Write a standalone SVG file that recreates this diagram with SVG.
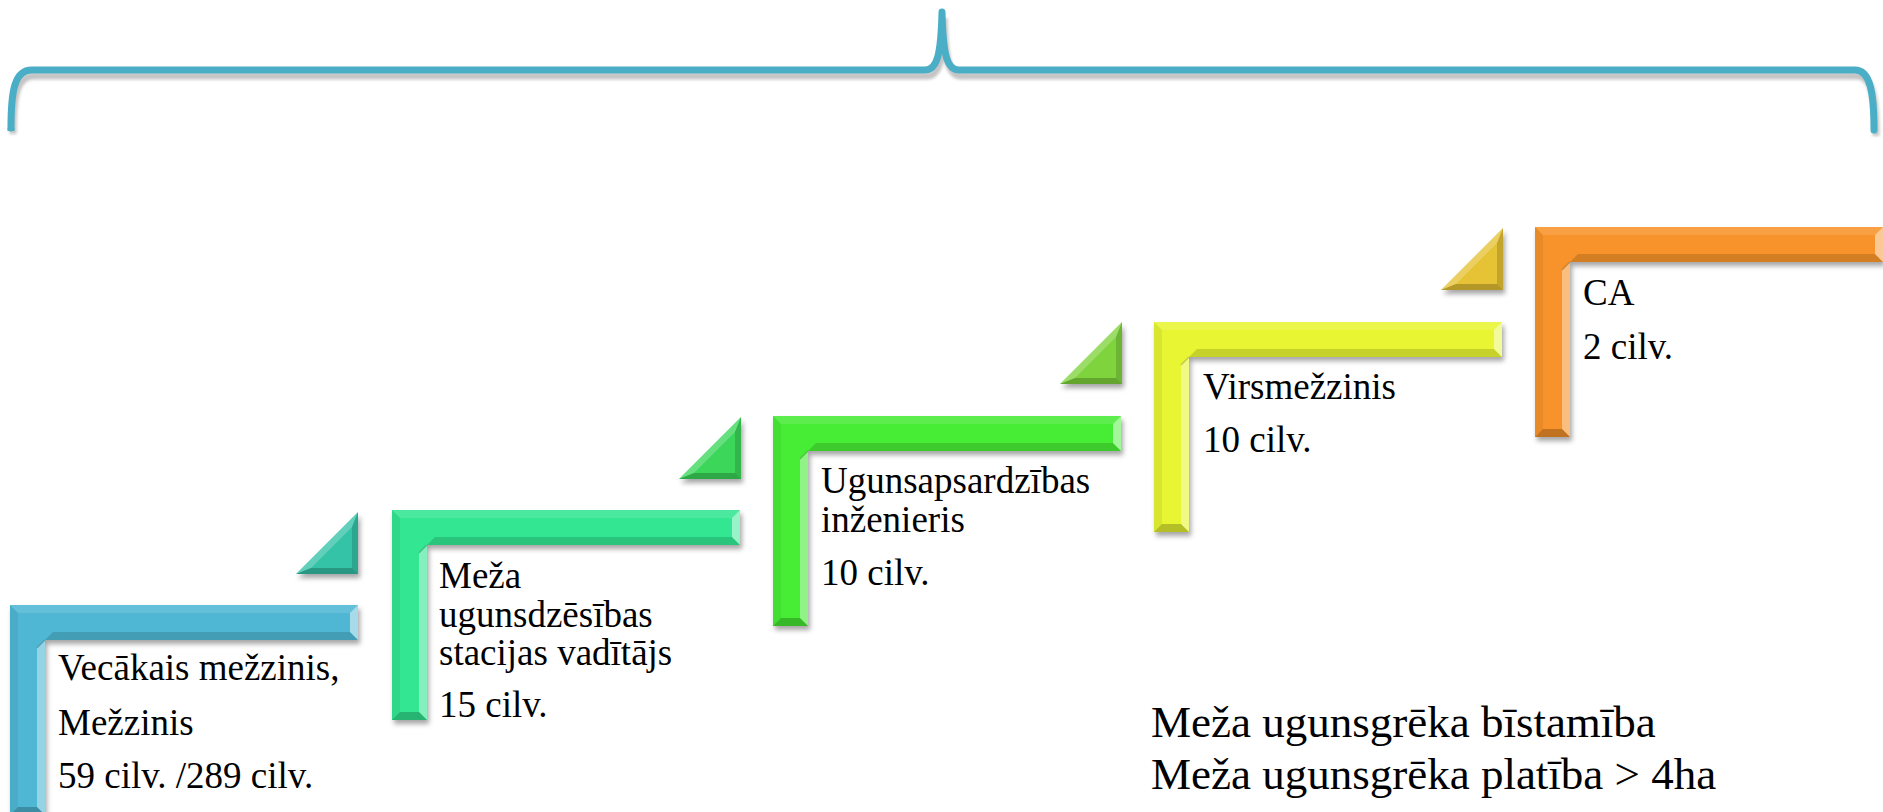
<svg xmlns="http://www.w3.org/2000/svg" xmlns:xlink="http://www.w3.org/1999/xlink" width="1883" height="812" viewBox="0 0 1883 812">
<style>
.t{font-size:37px;fill:#000}
.b{font-size:45px;fill:#000}
.hi{fill:#fff}
.dk{fill:#000}
</style>
<defs>
<filter id="sh" x="-10%" y="-10%" width="130%" height="130%">
<feDropShadow dx="2" dy="4" stdDeviation="2.5" flood-color="#000" flood-opacity="0.35"/>
</filter>
<filter id="bsh" x="-5%" y="-50%" width="110%" height="200%">
<feGaussianBlur stdDeviation="1.5"/>
</filter>
<path id="Lshape" d="M0,0 H348 V35 H35 V210 H0 Z"/>
<g id="Lbevel">
<polygon class="hi" opacity="0.12" points="0,0 348,0 340,8 8,8"/>
<polygon class="dk" opacity="0.06" points="0,0 8,8 8,202 0,210"/>
<polygon class="hi" opacity="0.4" points="35,35 35,210 27,202 27,43"/>
<polygon class="dk" opacity="0.14" points="35,35 348,35 340,27 43,27"/>
<polygon class="hi" opacity="0.5" points="348,0 348,35 340,27 340,8"/>
<polygon class="dk" opacity="0.22" points="0,210 35,210 27,202 8,202"/>
<line x1="27" y1="43" x2="35" y2="35" stroke="#000" stroke-opacity="0.18" stroke-width="1.5"/>
</g>
<g id="Tbevel">
<polygon class="hi" opacity="0.22" points="62,0 0,62 15,56 56,15"/>
<polygon class="dk" opacity="0.15" points="62,0 62,62 56,56 56,15"/>
<polygon class="dk" opacity="0.22" points="0,62 62,62 56,56 15,56"/>
</g>
</defs>

<g id="brace">
<g filter="url(#bsh)" opacity="0.5" transform="translate(2,6)">
<path d="M11,128 C11,92 14,70 32,70 L925,70 C937,70 941,55 942,12 C943,55 947,70 959,70 L1855,70 C1870,70 1874,92 1874,130" fill="none" stroke="#888" stroke-width="7"/>
</g>
<path d="M11,128 C11,92 14,70 32,70 L925,70 C937,70 941,55 942,12 C943,55 947,70 959,70 L1855,70 C1870,70 1874,92 1874,130" fill="none" stroke="#4aaec6" stroke-width="7" stroke-linecap="round" stroke-linejoin="round"/>
<path d="M11,128 V131" stroke="#4aaec6" stroke-width="7"/>
</g>

<g id="connectors">
<g transform="translate(296,512)">
<polygon points="62,0 62,62 0,62" fill="#36c3a8" filter="url(#sh)"/>
<use xlink:href="#Tbevel"/>
</g>
<g transform="translate(679,417)">
<polygon points="62,0 62,62 0,62" fill="#3bd65a" filter="url(#sh)"/>
<use xlink:href="#Tbevel"/>
</g>
<g transform="translate(1060,322)">
<polygon points="62,0 62,62 0,62" fill="#7fd43e" filter="url(#sh)"/>
<use xlink:href="#Tbevel"/>
</g>
<g transform="translate(1441,228)">
<polygon points="62,0 62,62 0,62" fill="#e6c234" filter="url(#sh)"/>
<use xlink:href="#Tbevel"/>
</g>
</g>

<g font-family="'Liberation Serif', 'DejaVu Serif', serif">
<g id="node-mezzinis" transform="translate(10,605)">
<use xlink:href="#Lshape" fill="#4fb7d3" filter="url(#sh)"/>
<use xlink:href="#Lbevel"/>
<text class="t" x="48" y="75">Vecākais mežzinis,</text>
<text class="t" x="48" y="130">Mežzinis</text>
<text class="t" x="48" y="183">59 cilv. /289 cilv.</text>
</g>

<g id="node-stacija" transform="translate(392,510)">
<use xlink:href="#Lshape" fill="#33e692" filter="url(#sh)"/>
<use xlink:href="#Lbevel"/>
<text class="t" x="47" y="78">Meža</text>
<text class="t" x="47" y="117">ugunsdzēsības</text>
<text class="t" x="47" y="155">stacijas vadītājs</text>
<text class="t" x="47" y="207">15 cilv.</text>
</g>

<g id="node-inzenieris" transform="translate(773,416)">
<use xlink:href="#Lshape" fill="#46ec36" filter="url(#sh)"/>
<use xlink:href="#Lbevel"/>
<text class="t" x="48" y="77">Ugunsapsardzības</text>
<text class="t" x="48" y="116">inženieris</text>
<text class="t" x="48" y="169">10 cilv.</text>
</g>

<g id="node-virsmezzinis" transform="translate(1154,322)">
<use xlink:href="#Lshape" fill="#e7f533" filter="url(#sh)"/>
<use xlink:href="#Lbevel"/>
<text class="t" x="49" y="77">Virsmežzinis</text>
<text class="t" x="49" y="130">10 cilv.</text>
</g>

<g id="node-ca" transform="translate(1535,227)">
<use xlink:href="#Lshape" fill="#f7932c" filter="url(#sh)"/>
<use xlink:href="#Lbevel"/>
<text class="t" x="48" y="78">CA</text>
<text class="t" x="48" y="132">2 cilv.</text>
</g>

<g id="note">
<text class="b" x="1151" y="737">Meža ugunsgrēka bīstamība</text>
<text class="b" x="1151" y="789">Meža ugunsgrēka platība &gt; 4ha</text>
</g>
</g>
</svg>
